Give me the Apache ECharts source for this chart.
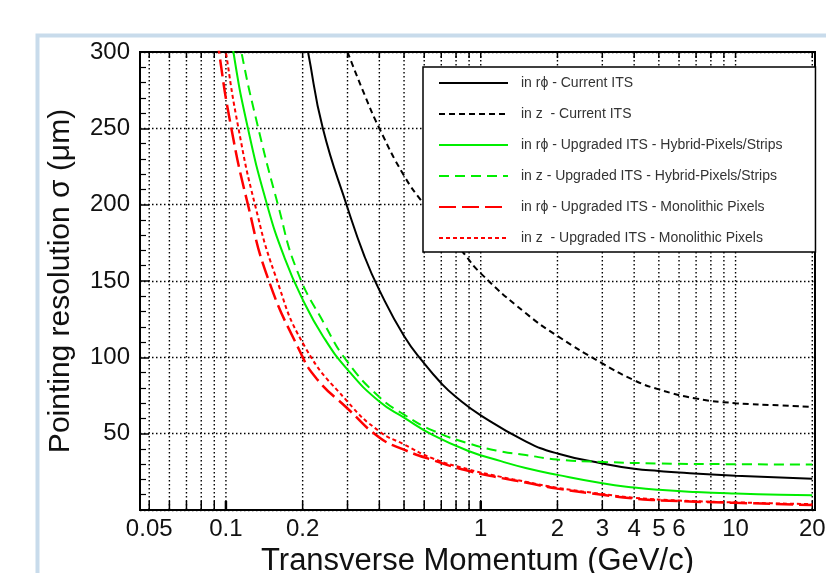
<!DOCTYPE html>
<html>
<head>
<meta charset="utf-8">
<script src="https://cdn.jsdelivr.net/npm/echarts@6/dist/echarts.min.js"></script>
<style>
  html, body { margin: 0; padding: 0; background: #fff; }
  #chart { width: 826px; height: 573px; }
</style>
</head>
<body>
<div id="chart"></div>
<script>
// pT (GeV/c) vs pointing resolution (um)
const rphiCurrent = [[0.2, 318], [0.21, 300], [0.24, 250], [0.3, 198], [0.35, 166], [0.4, 144], [0.5, 114], [0.6, 96], [0.7, 83], [0.8, 74], [1, 62], [1.5, 45], [2, 37], [3, 30.5], [4, 27], [5, 25.5], [6, 24.5], [10, 22.5], [20, 20.5]]
const zCurrent = [[0.3, 300], [0.35, 272], [0.4, 250], [0.5, 219], [0.6, 200], [0.7, 186], [0.85, 169], [1, 155], [1.5, 129], [2, 114], [3, 96], [4, 85], [5, 79], [7, 73], [10, 70], [15, 68.5], [20, 67.5]]
const rphiHybrid = [[0.1, 340], [0.107, 300], [0.122, 250], [0.145, 200], [0.17, 165], [0.2, 138], [0.24, 114], [0.3, 92], [0.4, 71], [0.5, 60.5], [0.65, 49], [0.9, 38.5], [1.2, 32], [1.5, 27.5], [2, 23], [3, 17.5], [4, 14.7], [5, 13.2], [7, 11.8], [10, 10.8], [15, 10], [20, 9.7]]
const zHybrid = [[0.105, 340], [0.115, 300], [0.134, 250], [0.16, 200], [0.19, 157], [0.245, 121], [0.3, 97], [0.4, 74], [0.5, 62.5], [0.65, 52], [0.9, 43.5], [1.2, 38.4], [1.5, 36], [2, 33], [3, 31.5], [5, 30.5], [10, 30], [20, 29.8]]
const rphiMono = [[0.088, 340], [0.094, 300], [0.105, 250], [0.122, 200], [0.146, 152], [0.195, 104], [0.227, 86], [0.3, 66.5], [0.4, 47.5], [0.5, 39.5], [0.65, 32.6], [0.9, 25.5], [1.2, 21], [1.5, 18], [2, 14], [3, 10], [4, 7.5], [6, 5.8], [10, 4.7], [20, 3.2]]
const zMono = [[0.093, 340], [0.1, 300], [0.112, 250], [0.13, 200], [0.156, 154], [0.204, 107], [0.3, 71], [0.4, 51.5], [0.5, 43], [0.65, 33.7], [0.9, 26.5], [1.2, 21.7], [1.5, 18.5], [2, 14.5], [3, 10.5], [4, 8], [6, 6.2], [10, 5], [20, 3.8]]

const seriesNames = [
  'in r\u03d5 - Current ITS',
  'in z  - Current ITS',
  'in r\u03d5 - Upgraded ITS - Hybrid-Pixels/Strips',
  'in z - Upgraded ITS - Hybrid-Pixels/Strips',
  'in r\u03d5 - Upgraded ITS - Monolithic Pixels',
  'in z  - Upgraded ITS - Monolithic Pixels'
]

const xGridValues = [0.05, 0.06, 0.07, 0.08, 0.09, 0.1, 0.2, 0.3, 0.4, 0.5, 0.6, 0.7, 0.8, 0.9, 1, 2, 3, 4, 5, 6, 7, 8, 9, 10, 20]
const xTickLabels = [0.05, 0.1, 0.2, 1, 2, 3, 4, 5, 6, 10, 20]

const xMin = 0.046
const xMax = 20.5
const yMin = 0
const yMax = 300

const FONT = '"Liberation Sans", Arial, sans-serif'

const chart = echarts.init(document.getElementById('chart'))

// log axis only ticks at decades, so draw the minor grid + labels ourselves
const renderXGrid = (params, api) => {
  const v = api.value(0)
  const top = api.coord([v, yMax])
  const bot = api.coord([v, yMin])
  const major = v === 0.1 || v === 1 || v === 10
  const children = [
    {
      type: 'line',
      shape: { x1: top[0], y1: top[1], x2: bot[0], y2: bot[1] },
      style: { stroke: '#000', lineWidth: 1.4, lineDash: [1.5, 2.5] }
    },
    {
      type: 'line',
      shape: { x1: bot[0], y1: bot[1], x2: bot[0], y2: bot[1] - 9 },
      style: { stroke: '#000', lineWidth: major ? 2.5 : 1.5 }
    },
    {
      type: 'line',
      shape: { x1: top[0], y1: top[1], x2: top[0], y2: top[1] + 6 },
      style: { stroke: '#000', lineWidth: 1.5 }
    }
  ]
  if (xTickLabels.indexOf(v) >= 0) {
    children.push({
      type: 'text',
      x: bot[0],
      y: bot[1] + 7,
      style: {
        text: String(v),
        fill: '#111',
        fontSize: 24,
        fontFamily: FONT,
        align: 'center',
        verticalAlign: 'top'
      }
    })
  }
  return { type: 'group', children }
}

const lineSeries = (name, data, color, width, dash) => ({
  name,
  type: 'line',
  data,
  symbol: 'none',
  smooth: 0.5,
  clip: true,
  z: 3,
  lineStyle: { color, width, type: dash },
  itemStyle: { color }
})

const option = {
  backgroundColor: '#fff',
  animation: false,
  graphic: [
    {
      type: 'rect',
      left: 35,
      top: 33,
      shape: { width: 900, height: 600 },
      style: { fill: 'none', stroke: '#c8dbeb', lineWidth: 4 },
      silent: true
    }
  ],
  grid: {
    left: 140,
    right: 11,
    top: 52,
    bottom: 63,
    outerBoundsMode: 'none',
    containLabel: false,
    show: true,
    borderColor: '#000',
    borderWidth: 2,
    backgroundColor: '#fff'
  },
  legend: {
    data: seriesNames,
    orient: 'vertical',
    left: 423,
    top: 67,
    backgroundColor: '#fff',
    borderColor: '#000',
    borderWidth: 1.5,
    borderRadius: 0,
    padding: [9, 33, 7, 15],
    itemWidth: 69,
    itemHeight: 14,
    itemGap: 17,
    selectedMode: false,
    itemStyle: { opacity: 0 },
    textStyle: {
      fontFamily: FONT,
      fontSize: 14,
      color: '#333',
      padding: [0, 0, 0, 8]
    }
  },
  xAxis: {
    type: 'log',
    logBase: 10,
    min: xMin,
    max: xMax,
    name: 'Transverse Momentum (GeV/c)',
    nameLocation: 'middle',
    nameGap: 36,
    nameTextStyle: { fontFamily: FONT, fontSize: 31, color: '#111' },
    axisLine: { show: false },
    axisTick: { show: false },
    axisLabel: { show: false },
    splitLine: { show: false },
    minorTick: { show: false },
    minorSplitLine: { show: false }
  },
  yAxis: {
    type: 'value',
    min: yMin,
    max: yMax,
    interval: 50,
    name: 'Pointing resolution \u03c3 (\u03bcm)',
    nameLocation: 'middle',
    nameRotate: 90,
    nameGap: 64,
    nameTextStyle: { fontFamily: FONT, fontSize: 30, color: '#111' },
    axisLine: { show: false },
    axisTick: { show: true, inside: true, length: 9, lineStyle: { color: '#000', width: 1.5 } },
    minorTick: { show: true, splitNumber: 5, length: 6, lineStyle: { color: '#000', width: 1.2 } },
    axisLabel: {
      margin: 10,
      fontFamily: FONT,
      fontSize: 24,
      color: '#111',
      formatter: v => (v === 0 ? '' : String(v))
    },
    splitLine: {
      show: true,
      lineStyle: { color: '#000', width: 1.4, type: [1.5, 2.5] }
    }
  },
  series: [
    {
      name: 'xgrid',
      type: 'custom',
      silent: true,
      z: 1,
      data: xGridValues.map(v => [v, yMin]),
      renderItem: renderXGrid
    },
    lineSeries(seriesNames[0], rphiCurrent, '#000', 2, 'solid'),
    lineSeries(seriesNames[1], zCurrent, '#000', 2, [6, 4]),
    lineSeries(seriesNames[2], rphiHybrid, '#00ee00', 2, 'solid'),
    lineSeries(seriesNames[3], zHybrid, '#00ee00', 2, [10, 6]),
    lineSeries(seriesNames[4], rphiMono, '#ff0000', 2.5, [17, 6]),
    lineSeries(seriesNames[5], zMono, '#ff0000', 2, [4, 3])
  ]
}

chart.setOption(option)
</script>
</body>
</html>
